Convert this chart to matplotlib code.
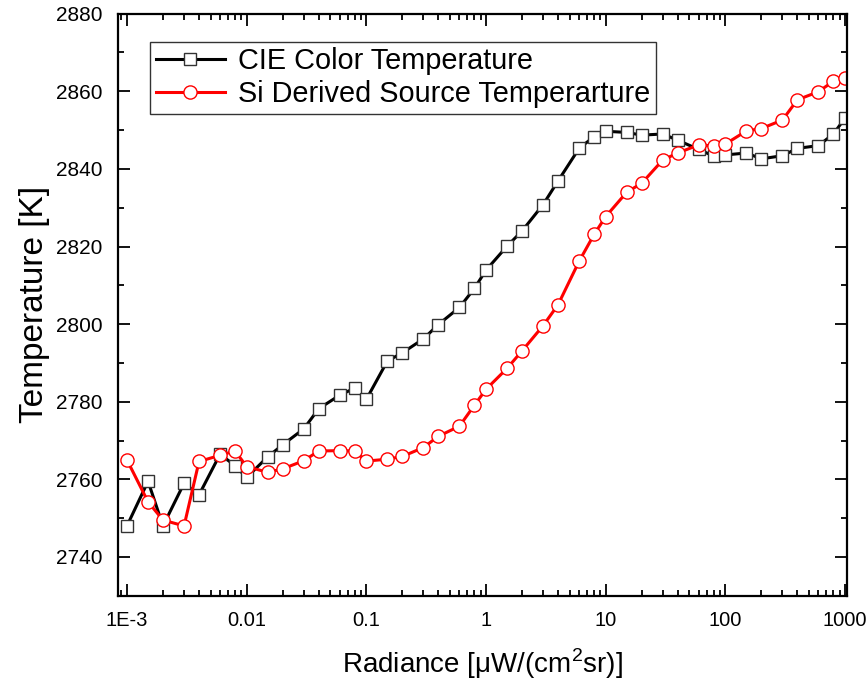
import numpy as np
import matplotlib
matplotlib.use("Agg")
from matplotlib import pyplot as plt
from matplotlib import ticker

plt.rcParams['font.family'] = ['Liberation Sans', 'DejaVu Sans']
plt.rcParams['mathtext.fontset'] = 'custom'
plt.rcParams['mathtext.rm'] = 'Liberation Sans'

# radiance steps (uW/(cm^2 sr))
radiance = [1e-3, 1.5e-3, 2e-3, 3e-3, 4e-3, 6e-3, 8e-3,
            0.01, 0.015, 0.02, 0.03, 0.04, 0.06, 0.08,
            0.1, 0.15, 0.2, 0.3, 0.4, 0.6, 0.8,
            1, 1.5, 2, 3, 4, 6, 8,
            10, 15, 20, 30, 40, 60, 80,
            100, 150, 200, 300, 400, 600, 800,
            1000]

cie_temp = [2748, 2759.5, 2748, 2759, 2756, 2766.5, 2763.5,
            2760.5, 2765.8, 2768.9, 2773, 2778.2, 2781.7, 2783.5,
            2780.6, 2790.5, 2792.6, 2796.2, 2799.9, 2804.3, 2809.2,
            2813.9, 2820.1, 2824, 2830.8, 2836.9, 2845.3, 2848.3,
            2849.7, 2849.4, 2848.7, 2849, 2847.4, 2845, 2843.3,
            2843.6, 2844.1, 2842.6, 2843.4, 2845.3, 2846, 2849,
            2853.1]

si_temp = [2765, 2754.2, 2749.5, 2748, 2764.6, 2766.2, 2767.3,
           2763.3, 2761.8, 2762.7, 2764.8, 2767.3, 2767.4, 2767.3,
           2764.7, 2765.2, 2765.9, 2768.2, 2771.1, 2773.7, 2779.1,
           2783.2, 2788.6, 2793.1, 2799.6, 2805, 2816.2, 2823.1,
           2827.7, 2834, 2836.3, 2842.3, 2844.1, 2846.2, 2845.9,
           2846.4, 2849.8, 2850.4, 2852.6, 2857.8, 2859.9, 2862.6,
           2863.3]

xtick_vals = [1e-3, 0.01, 0.1, 1, 10, 100, 1000]
xtick_labels = ['1E-3', '0.01', '0.1', '1', '10', '100', '1000']

fig = plt.figure(figsize=(8.67, 6.84), dpi=100)
ax = fig.add_axes([0.136, 0.129, 0.841, 0.851])

ax.plot(radiance, cie_temp, color='black', lw=2.2, marker='s', ms=8.5,
        mfc='white', mec='#333333', mew=1.0, label='CIE Color Temperature')
ax.plot(radiance, si_temp, color='red', lw=2.2, marker='o', ms=9.5,
        mfc='white', mec='red', mew=1.0, label='Si Derived Source Temperarture')

ax.set_xscale('log')
ax.set_xlim(0.00084, 1040)
ax.set_ylim(2730, 2880)

ax.xaxis.set_major_locator(ticker.FixedLocator(xtick_vals))
ax.xaxis.set_major_formatter(ticker.FixedFormatter(xtick_labels))
ax.xaxis.set_minor_locator(ticker.LogLocator(base=10, subs=np.arange(2, 10)))
ax.xaxis.set_minor_formatter(ticker.NullFormatter())
ax.yaxis.set_major_locator(ticker.MultipleLocator(20))
ax.yaxis.set_minor_locator(ticker.MultipleLocator(10))

ax.tick_params(which='both', direction='in', top=True, right=True, width=1.3)
ax.tick_params(which='major', length=8.5)
ax.tick_params(which='minor', length=4.5)
ax.tick_params(axis='y', which='major', labelsize=15, pad=11)
ax.tick_params(axis='x', which='major', labelsize=14.5, pad=11)
for s in ax.spines.values():
    s.set_linewidth(1.6)

ax.set_xlabel('Radiance [\u03bcW/(cm$^2$sr)]', fontsize=20, labelpad=12)
ax.set_ylabel('Temperature [K]', fontsize=24, labelpad=4)

leg = ax.legend(loc='upper left', bbox_to_anchor=(0.044, 0.952), fontsize=20.8,
                frameon=True, fancybox=False, edgecolor='black',
                handlelength=2.4, handletextpad=0.45, borderpad=0.2,
                labelspacing=0.16, borderaxespad=0)
leg.get_frame().set_linewidth(1.0)

fig.savefig('out.png', dpi=100)
